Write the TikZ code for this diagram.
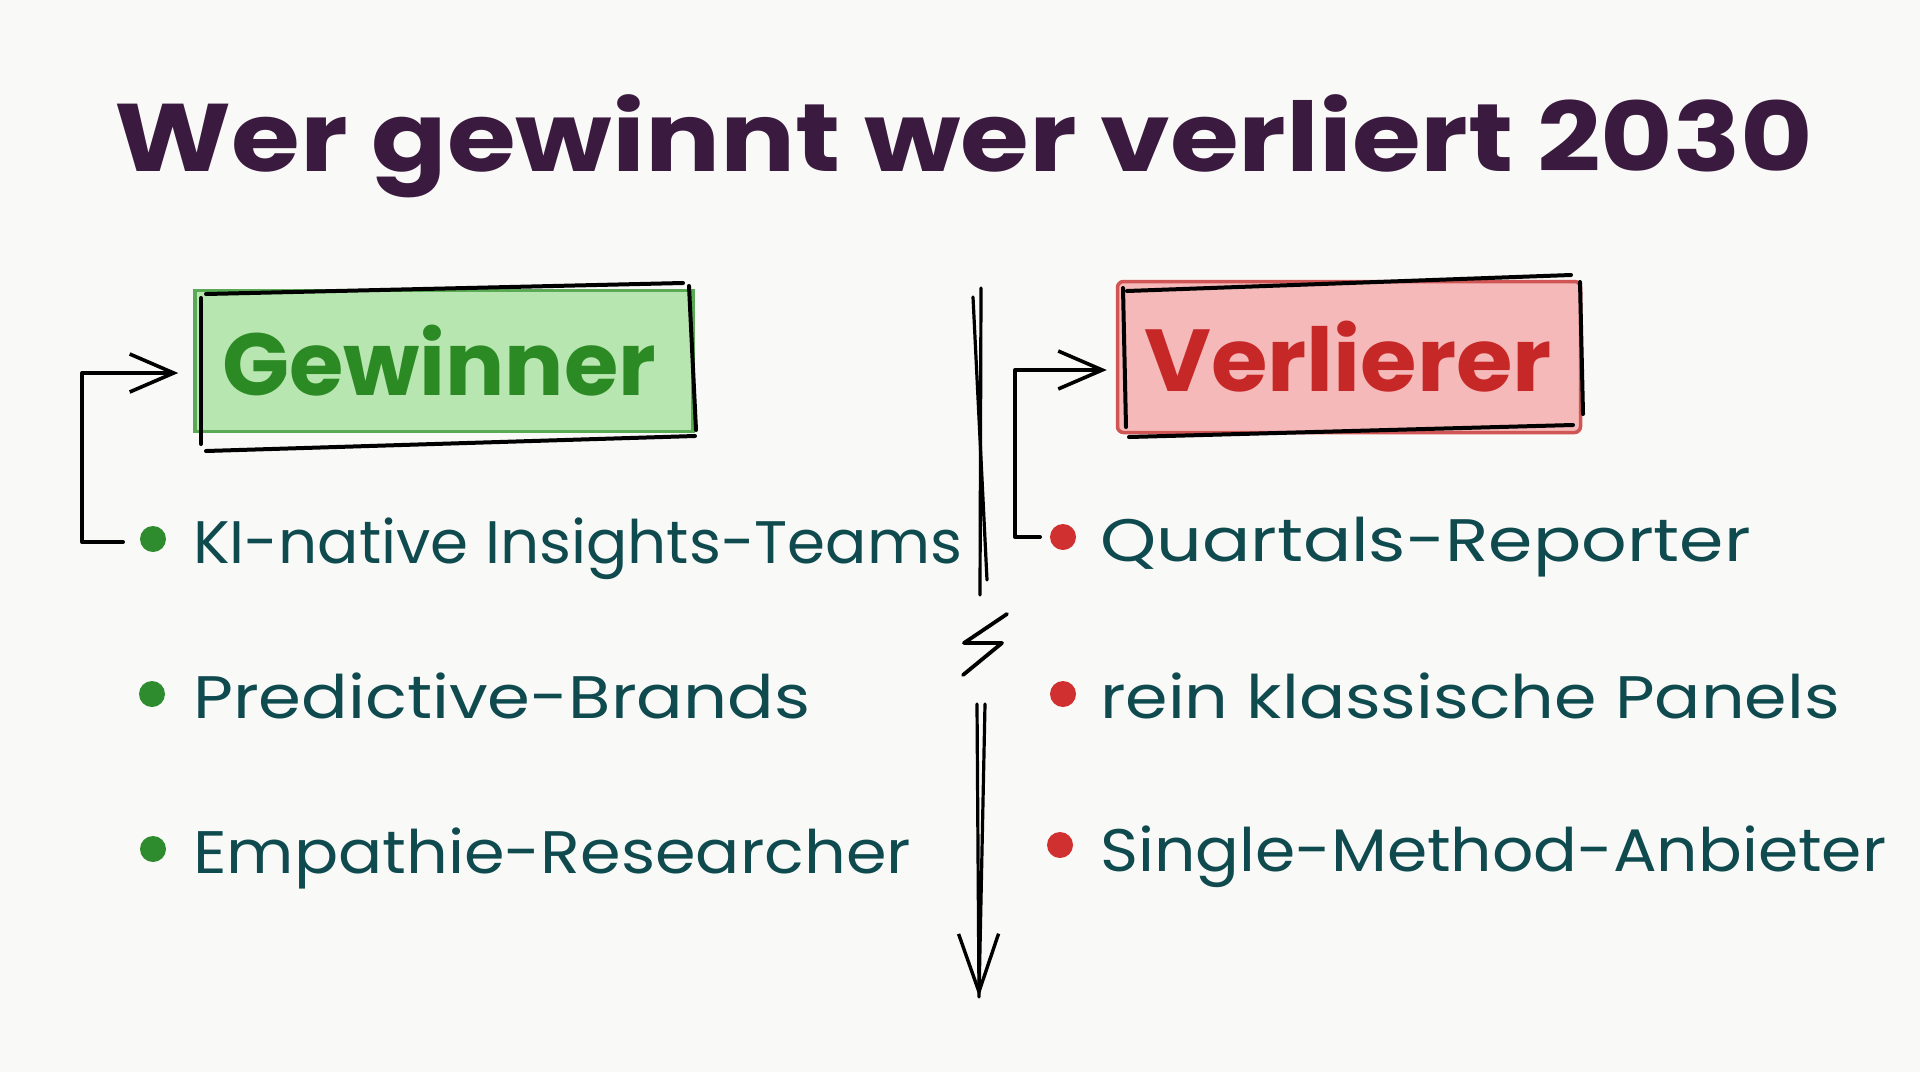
\documentclass[tikz,border=0pt]{standalone}
\usepackage{fontspec}
\setmainfont{Poppins}
\usetikzlibrary{arrows.meta}
\definecolor{bg}{HTML}{F9F9F7}
\definecolor{titlec}{HTML}{3B1A3F}
\definecolor{itemc}{HTML}{0F4A4F}
\definecolor{gdot}{HTML}{2E8B2E}
\definecolor{rdot}{HTML}{D03030}
\definecolor{gfill}{HTML}{B8E6B0}
\definecolor{gline}{HTML}{5AAA55}
\definecolor{rfill}{HTML}{F6B9B9}
\definecolor{rline}{HTML}{D05555}
\definecolor{gtext}{HTML}{2C8A24}
\definecolor{rtext}{HTML}{C62828}
\tikzset{
  sketch/.style={draw=black, line width=4pt, line cap=round, line join=round},
  thinsketch/.style={draw=black, line width=3.2pt, line cap=round, line join=round},
  item/.style={anchor=base west, inner sep=0pt, text=itemc, font=\fontsize{60}{66}\selectfont},
  gdotst/.style={circle, fill=gdot, minimum size=26pt, inner sep=0pt},
  rdotst/.style={circle, fill=rdot, minimum size=26pt, inner sep=0pt},
  barb/.style={-{Straight Barb[length=44pt,width=38pt,line width=3.6pt]}},
}
\begin{document}
\begin{tikzpicture}[x=1pt,y=-1pt]
\path[fill=bg] (0,0) rectangle (1920,1072);
\useasboundingbox (0,0) rectangle (1920,1072);

% title
\node[anchor=base, text=titlec, font=\fontsize{96}{104}\selectfont\bfseries] (title) at (964,171) {\scalebox{1.16}[1]{Wer gewinnt wer verliert 2030}};

% Gewinner box
\node[draw=gline, fill=gfill, line width=3.5pt, minimum width=498pt, minimum height=141pt, inner sep=0pt] (gew) at (444,361) {};
\node[text=gtext, font=\fontsize{88}{96}\selectfont\bfseries] (gewt) at ([xshift=-5pt]gew) {Gewinner};
\draw[sketch] (206,294) -- (683,283);
\draw[sketch] (689,286) -- (696,430);
\draw[sketch] (201,298) -- (201,444);
\draw[sketch] (206,451) -- (695,436);

% Verlierer box
\node[draw=rline, fill=rfill, line width=3.5pt, rounded corners=6pt, minimum width=463pt, minimum height=151pt, inner sep=0pt] (ver) at (1349,357) {};
\node[text=rtext, font=\fontsize{88}{96}\selectfont\bfseries] (vert) at ([xshift=-1pt]ver) {\scalebox{1.04}[1]{Verlierer}};
\draw[sketch] (1127,291) -- (1571,275);
\draw[sketch] (1580,282) -- (1583,414);
\draw[sketch] (1123,288) -- (1126,427);
\draw[sketch] (1129,437) -- (1573,425);

% left items
\node[gdotst] (g1) at (153,539) {};
\node[gdotst] (g2) at (152,694) {};
\node[gdotst] (g3) at (153,849) {};
\node[item] (l1) at (193,563) {\scalebox{1.02}[1]{KI-native Insights-Teams}};
\node[item] (l2) at (193,718) {\scalebox{1.15}[1]{Predictive-Brands}};
\node[item] (l3) at (193,873) {\scalebox{1.09}[1]{Empathie-Researcher}};

% right items
\node[rdotst] (r1) at (1063,537) {};
\node[rdotst] (r2) at (1063,694) {};
\node[rdotst] (r3) at (1060,845) {};
\node[item] (q1) at (1100,561) {\scalebox{1.19}[1]{Quartals-Reporter}};
\node[item] (q2) at (1100,718) {\scalebox{1.14}[1]{rein klassische Panels}};
\node[item] (q3) at (1100,871) {\scalebox{1.08}[1]{Single-Method-Anbieter}};

% brackets
\coordinate (lb) at (123,542);
\coordinate (rb) at (1040,537);
\draw[sketch, barb] (lb) -- (82,542) -- (82,373) -- ([xshift=-15pt,yshift=-12pt]gew.west);
\draw[sketch, barb] (rb) -- (1015,537) -- (1015,370) -- ([xshift=-9pt,yshift=-13pt]ver.west);

% divider
\coordinate (d1a) at (973,297);
\coordinate (d1b) at (987,580);
\coordinate (d2a) at (981,288);
\coordinate (d2b) at (980,595);
\draw[thinsketch] (d1a) -- (d1b);
\draw[thinsketch] (d2a) -- (d2b);
\coordinate (z1) at (1007,614);
\coordinate (z2) at (964,643);
\coordinate (z3) at (1002,643);
\coordinate (z4) at (963,675);
\draw[thinsketch, line width=3.8pt] (z1) -- (z2) -- (z3) -- (z4);
\coordinate (a1) at (977,704);
\coordinate (a2) at (985,704);
\coordinate (tip) at (979,997);
\draw[thinsketch] (a2) -- (tip);
\draw[thinsketch, -{Straight Barb[length=58pt,width=40pt,line width=3.4pt]}] (a1) -- (tip);
\end{tikzpicture}
\end{document}
